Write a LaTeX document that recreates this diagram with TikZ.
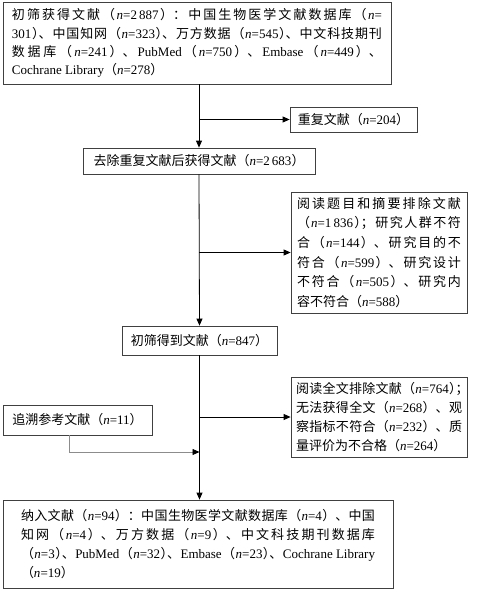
\documentclass[tikz,border=0pt]{standalone}
\usepackage{fontspec}
\setmainfont{Noto Sans CJK SC}
\newfontfamily\latf{Liberation Serif}
\usetikzlibrary{arrows.meta}
\XeTeXlinebreaklocale "zh"
\XeTeXlinebreakskip=0pt plus 2pt
\newcommand\gl{\hspace{0pt plus 1.5pt}}
\newcommand\nv[1]{\gl{\latf\textit{n}=#1}\gl}
\newcommand\la[1]{\gl\mbox{\latf #1}\gl}
\newcommand\rpz{\makebox[0.5em][l]{）}}
\newcommand\scz{\makebox[0.5em][l]{；}}
\begin{document}
\begin{tikzpicture}[x=1pt,y=-1pt,
  box/.style={draw=black!75, line width=0.8pt, inner sep=0pt, font=\fontsize{13}{19}\selectfont},
  para/.style={align=justify},
  arr/.style={draw=black, line width=0.8pt, -{Triangle[length=7pt,width=6pt]}},
  garr/.style={draw=black!45, line width=0.8pt, -{Triangle[length=7pt,width=6pt,color=black]}}]
\useasboundingbox (0,0) rectangle (477,589);
\node[box, para, minimum width=388pt, minimum height=82pt, text width=370pt, font=\fontsize{13}{18.3}\selectfont] (b1) at (197,43)
 {初筛获得文献（\nv{2\,887}）：中国生物医学文献数据库（\nv{}\linebreak
 \la{301}\rpz、中国知网（\nv{323}\rpz、万方数据（\nv{545}\rpz、中文科技期刊\linebreak
 数据库（\nv{241}）、\la{PubMed}（\nv{750}）、\la{Embase}（\nv{449}）、\linebreak
 \la{Cochrane Library}（\nv{278}）};
\node[box, minimum width=127pt, minimum height=25pt] (dup) at (353.5,119.5) {重复文献（\nv{204}）};
\node[box, minimum width=232pt, minimum height=26pt] (b2) at (199,161) {去除重复文献后获得文献（\nv{2\,683}）};
\node[box, para, minimum width=176pt, minimum height=121pt, text width=164pt, font=\fontsize{13}{19.6}\selectfont] (b3) at (379,252.5)
 {阅读题目和摘要排除文献\linebreak
 （\nv{1\,836}\rpz；研究人群不符\linebreak
 合（\nv{144}）、研究目的不\linebreak
 符合（\nv{599}）、研究设计\linebreak
 不符合（\nv{505}）、研究内\linebreak
 容不符合（\nv{588}）};
\node[box, minimum width=155pt, minimum height=29pt] (b4) at (199.5,340.5) {初筛得到文献（\nv{847}）};
\node[box, para, minimum width=176pt, minimum height=80pt, text width=166pt] (b5) at (379,417)
 {阅读全文排除文献（\nv{764}\rpz\scz\linebreak
 无法获得全文（\nv{268}）、观\linebreak
 察指标不符合（\nv{232}）、质\linebreak
 量评价为不合格（\nv{264}）};
\node[box, minimum width=149pt, minimum height=30pt] (b6) at (77.5,420) {追溯参考文献（\nv{11}）};
\node[box, para, minimum width=390pt, minimum height=88pt, text width=354pt] (b7) at (198,544)
 {纳入文献（\nv{94}）：中国生物医学文献数据库（\nv{4}）、中国\linebreak
 知网（\nv{4}）、万方数据（\nv{9}）、中文科技期刊数据库\linebreak
 （\nv{3}\rpz、\la{PubMed}（\nv{32}\rpz、\la{Embase}（\nv{23}\rpz、\la{Cochrane Library}\linebreak
 （\nv{19}）};
\coordinate (j) at (b4.south |- 0,452);
\draw[arr] (b1.south -| b2.north) -- (b2.north);
\draw[arr] (b2.north |- dup.west) -- (dup.west);
\draw[arr] (b2.south) -- (b4.north);
\draw[arr] (b2.south |- b3.west) -- (b3.west);
\draw[arr] (b4.south) -- (b7.north -| b4.south);
\draw[arr] (b4.south |- b5.west) -- (b5.west);
\draw[garr] ([xshift=-8.5pt]b6.south) |- (j);
\end{tikzpicture}
\end{document}
